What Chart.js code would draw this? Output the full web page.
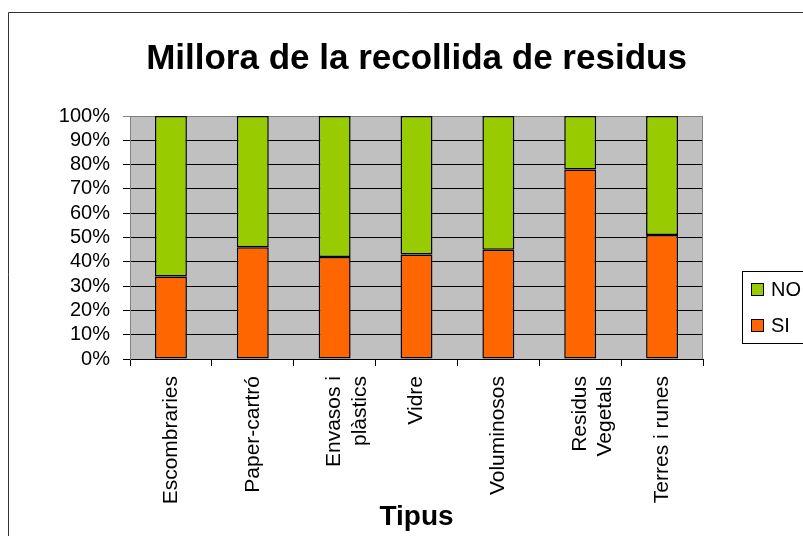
<!DOCTYPE html>
<html>
<head>
<meta charset="utf-8">
<script src="https://cdn.jsdelivr.net/npm/chart.js@4"></script>
<style>
  html, body { margin: 0; padding: 0; background: #fff; }
</style>
</head>
<body>
<canvas id="chart" width="803" height="536"></canvas>
<script>
// dades llegides del gràfic (percentatges)
const categories = ['Escombraries', 'Paper-cartró', ['Envasos i', 'plàstics'], 'Vidre', 'Voluminosos', ['Residus', 'Vegetals'], 'Terres i runes'];
const siValues = [34, 46, 42, 43, 45, 78, 51];
const noValues = [66, 54, 58, 57, 55, 22, 49];
const yMin = 0;
const yMax = 100;
const yStep = 10;

const FONT = '"Liberation Sans", Arial, sans-serif';

// fons gris de l'àrea del gràfic i vora exterior
const plotBackground = {
  id: 'plotBackground',
  beforeDraw(chart) {
    const { ctx, chartArea } = chart;
    ctx.save();
    ctx.fillStyle = '#C0C0C0';
    ctx.fillRect(chartArea.left, chartArea.top, chartArea.right - chartArea.left, chartArea.bottom - chartArea.top);
    // vora exterior (tallada a la dreta i a baix)
    ctx.strokeStyle = '#333';
    ctx.lineWidth = 1;
    ctx.beginPath();
    ctx.moveTo(8.5, 536);
    ctx.lineTo(8.5, 12.5);
    ctx.lineTo(803, 12.5);
    ctx.stroke();
    ctx.restore();
  },
  beforeDatasetsDraw(chart) {
    const { ctx, chartArea } = chart;
    ctx.save();
    ctx.strokeStyle = '#808080';
    ctx.lineWidth = 1;
    ctx.beginPath();
    ctx.moveTo(chartArea.left, chartArea.top + 0.5);
    ctx.lineTo(chartArea.right - 0.5, chartArea.top + 0.5);
    ctx.lineTo(chartArea.right - 0.5, chartArea.bottom);
    ctx.stroke();
    ctx.restore();
  }
};

// llegenda amb marc, com a l'original
const boxLegend = {
  id: 'boxLegend',
  afterDraw(chart) {
    const ctx = chart.ctx;
    ctx.save();
    ctx.strokeStyle = '#000';
    ctx.lineWidth = 1;
    ctx.strokeRect(742.5, 271.5, 90, 72);
    ctx.font = '20px ' + FONT;
    ctx.textBaseline = 'middle';
    const items = chart.data.datasets.slice().reverse();
    items.forEach((ds, i) => {
      const y = 283 + i * 36;
      ctx.fillStyle = ds.backgroundColor;
      ctx.fillRect(751, y, 13, 13);
      ctx.strokeRect(751.5, y + 0.5, 12, 12);
      ctx.fillStyle = '#000';
      ctx.fillText(ds.label, 771, y + 7);
    });
    ctx.restore();
  }
};

new Chart(document.getElementById('chart'), {
  type: 'bar',
  data: {
    labels: categories,
    datasets: [
      {
        label: 'SI',
        data: siValues,
        backgroundColor: '#FF6600',
        borderColor: '#000',
        borderWidth: 1.5,
        borderSkipped: false
      },
      {
        label: 'NO',
        data: noValues,
        backgroundColor: '#99CC00',
        borderColor: '#000',
        borderWidth: 1.5,
        borderSkipped: false
      }
    ]
  },
  options: {
    responsive: false,
    animation: false,
    barPercentage: 0.39,
    categoryPercentage: 1,
    layout: { padding: { top: 0, left: 0, right: 100, bottom: 0 } },
    plugins: {
      legend: { display: false },
      tooltip: { enabled: false },
      title: {
        display: true,
        text: 'Millora de la recollida de residus',
        fullSize: false,
        color: '#000',
        font: { family: FONT, size: 35, weight: 'bold' },
        padding: { top: 38, bottom: 36 }
      }
    },
    scales: {
      x: {
        stacked: true,
        afterFit(scale) { scale.height = 177; },
        grid: { offset: true, drawOnChartArea: false, drawTicks: true, tickLength: 7, color: '#000' },
        border: { display: true, color: '#000' },
        ticks: {
          autoSkip: false,
          minRotation: 90,
          maxRotation: 90,
          padding: 10,
          color: '#000',
          font: { family: FONT, size: 21 }
        },
        title: {
          display: true,
          text: 'Tipus',
          color: '#000',
          font: { family: FONT, size: 28, weight: 'bold' },
          padding: { top: 0, bottom: 2 }
        }
      },
      y: {
        stacked: true,
        min: yMin,
        max: yMax,
        afterFit(scale) { scale.width = 130; },
        grid: {
          tickLength: 7,
          color: (c) => (c.tick && c.tick.value === yMax ? '#808080' : '#000')
        },
        border: { display: true, color: '#808080' },
        ticks: {
          autoSkip: false,
          stepSize: yStep,
          padding: 13,
          color: '#000',
          font: { family: FONT, size: 20 },
          callback: (v) => v + '%'
        }
      }
    }
  },
  plugins: [plotBackground, boxLegend]
});
</script>
</body>
</html>
